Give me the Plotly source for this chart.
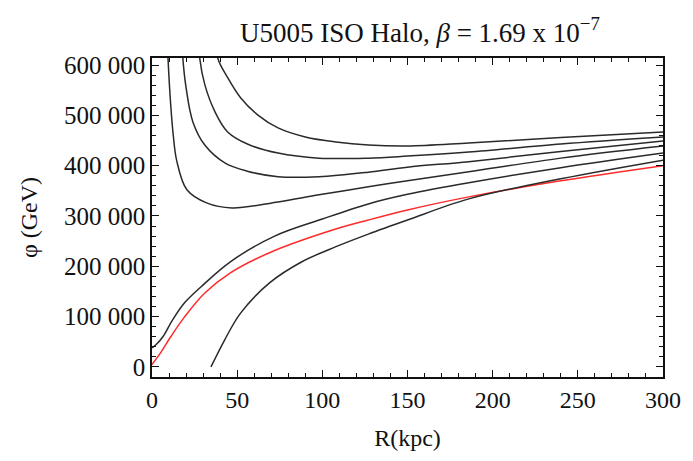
import plotly.graph_objects as go

# Data (R in kpc, phi in GeV)
R_A = [9.0, 9.4, 11, 12.5, 14.5, 20.5, 32, 47, 74, 98, 127, 150, 186, 240, 300]
P_A = [650000, 614000, 520000, 460000, 410000, 352000, 326000, 316000, 328000, 342000, 358000, 370000, 388000, 415000, 439000]

R_B = [17.5, 18.1, 20, 24, 31, 43, 56, 74, 98, 127, 150, 186, 240, 300]
P_B = [660000, 614000, 555000, 487000, 441000, 405000, 389000, 378000, 378000, 387000, 397000, 408000, 428000, 449000]

R_C = [27.4, 28, 31, 37, 44.4, 56, 74, 98, 127, 150, 186, 240, 300]
P_C = [660000, 614000, 561000, 507000, 467000, 443000, 425000, 415000, 415000, 419000, 427000, 443000, 457000]

R_D = [37.8, 38.6, 44.4, 52, 62, 74, 90, 108, 127, 150, 186, 240, 300]
P_D = [660000, 614000, 575000, 535000, 501000, 475000, 457000, 447000, 441000, 439000, 445000, 456000, 467000]

R_E = [0, 2.3, 6.4, 12, 19, 28.7, 46, 72, 100, 127, 150, 186, 240, 300]
P_E = [38000, 44000, 60000, 93000, 127000, 159000, 209000, 260000, 294000, 324000, 343000, 366000, 396000, 425000]

R_F = [34.6, 42.7, 52, 69, 88, 108, 127, 150, 186, 240, 300]
P_F = [0, 54000, 107000, 167000, 209000, 239000, 264000, 292000, 334000, 374000, 411000]

R_red = [0, 5, 11, 19, 31, 46, 69, 106, 127, 150, 186, 240, 300]
P_red = [5000, 28000, 60000, 99000, 147000, 187000, 227000, 272000, 292000, 312000, 338000, 370000, 400000]

x_ticks = [0, 50, 100, 150, 200, 250, 300]
y_ticks = [0, 100000, 200000, 300000, 400000, 500000, 600000]
y_ticktext = ["0", "100 000", "200 000", "300 000", "400 000", "500 000", "600 000"]

BLACK = "#2a2a2a"
RED = "#ff2a2a"
FONT = "Liberation Serif"

fig = go.Figure()

def add(xs, ys, color):
    fig.add_trace(go.Scatter(x=xs, y=ys, mode="lines",
                             line=dict(color=color, width=1.5, shape="spline", smoothing=1.0),
                             showlegend=False, hoverinfo="skip"))

add(R_red, P_red, RED)
for xs, ys in [(R_A, P_A), (R_B, P_B), (R_C, P_C), (R_D, P_D), (R_E, P_E), (R_F, P_F)]:
    add(xs, ys, BLACK)

fig.update_layout(
    width=693, height=461,
    margin=dict(l=152, r=28, t=58, b=84),
    paper_bgcolor="white", plot_bgcolor="white",
    font=dict(family=FONT, color="#111", size=25),
    title=dict(text="U5005 ISO Halo, <i>β</i> = 1.69 x 10<sup>−7</sup>",
               x=0.606, xanchor="center", y=0.93, yanchor="middle",
               font=dict(family=FONT, size=27, color="#111")),
    xaxis=dict(range=[0, 300], tickvals=x_ticks, ticks="inside", ticklen=7, tickwidth=1.2,
               tickcolor="#111", showline=True, linecolor="#111", linewidth=1.5, mirror="ticks",
               showgrid=False, zeroline=False,
               minor=dict(dtick=10, ticks="inside", ticklen=4, tickcolor="#111", showgrid=False),
               title=dict(text="R(kpc)", font=dict(family=FONT, size=24), standoff=18),
               tickfont=dict(family=FONT, size=24)),
    yaxis=dict(range=[-20000, 614000], tickvals=y_ticks, ticktext=y_ticktext, ticks="inside",
               ticklen=7, tickwidth=1.2, tickcolor="#111", showline=True, linecolor="#111",
               linewidth=1.5, mirror="ticks", showgrid=False, zeroline=False,
               minor=dict(dtick=20000, ticks="inside", ticklen=4, tickcolor="#111", showgrid=False),
               title=dict(text="φ (GeV)", font=dict(family=FONT, size=24), standoff=20),
               tickfont=dict(family=FONT, size=25)),
)

fig.write_html("out.html")
